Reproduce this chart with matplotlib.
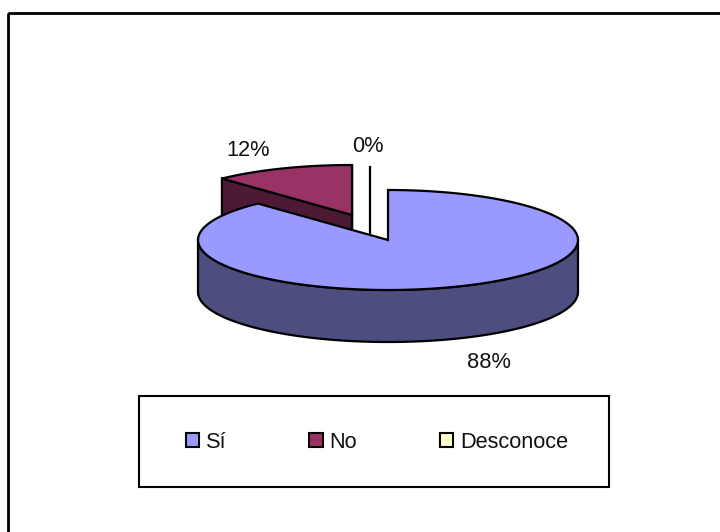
import matplotlib
matplotlib.use("Agg")
import matplotlib.pyplot as plt
from matplotlib.patches import Polygon, Rectangle, Patch
import numpy as np

categories = ["Sí", "No", "Desconoce"]
values = [88, 12, 0]
pct_labels = ["88%", "12%", "0%"]
colors = ["#9999FF", "#993366", "#FFFFCC"]
side_colors = ["#4D4D80", "#4D1A33", "#808066"]

plt.rcParams["font.family"] = ["Liberation Sans", "DejaVu Sans"]

RX, RY = 190, 50
DEPTH = 52
LW = 1.6
FONT = 15.7


def rim(cx, cy, a0, a1, n=120):
    # angles are clockwise from 12 o'clock, in degrees
    t = np.radians(np.linspace(a0, a1, n))
    return np.column_stack([cx + RX * np.sin(t), cy - RY * np.cos(t)])


def draw_poly(ax, pts, color, z):
    ax.add_patch(Polygon(pts, closed=True, facecolor=color, edgecolor="black",
                         linewidth=LW, joinstyle="miter", zorder=z))


fig = plt.figure(figsize=(7.2, 5.32), dpi=100)
ax = fig.add_axes([0, 0, 1, 1])
ax.set_xlim(0, 720)
ax.set_ylim(532, 0)
ax.axis("off")

# outer frame runs off the right and bottom of the picture
ax.add_patch(Rectangle((8, 13), 800, 600, fill=False, edgecolor="black", linewidth=2))

angles = np.cumsum([0] + values) * 3.6

# "No" slice, pulled out up and left
cx, cy = 352, 215
start, end = angles[1], angles[2]
edge = rim(cx, cy, start, end)
draw_poly(ax, [edge[0], (cx, cy), (cx, cy + DEPTH), edge[0] + (0, DEPTH)], side_colors[1], 2)
draw_poly(ax, [(cx, cy), (cx, cy + DEPTH), edge[-1] + (0, DEPTH), edge[-1]], side_colors[1], 2)
draw_poly(ax, np.vstack([[(cx, cy)], edge]), colors[1], 3)

# "Desconoce" has no width, only its edge shows
ax.plot([370, 370], [167, 235], color="black", linewidth=LW, zorder=3)

# "Sí" slice
cx, cy = 388, 240
start, end = angles[0], angles[1]
front = rim(cx, cy, 90, 270)
draw_poly(ax, np.vstack([front, front[::-1] + (0, DEPTH)]), side_colors[0], 4)
draw_poly(ax, np.vstack([[(cx, cy)], rim(cx, cy, start, end)]), colors[0], 5)

# percent labels
ax.text(489, 363, pct_labels[0], ha="center", va="center", fontsize=FONT, color="#111111")
ax.text(248, 150, pct_labels[1], ha="center", va="center", fontsize=FONT, color="#111111")
ax.text(368, 146, pct_labels[2], ha="center", va="center", fontsize=FONT, color="#111111")

# legend box
ax.add_patch(Rectangle((139, 396), 470, 91, facecolor="white", edgecolor="black",
                       linewidth=1.5, zorder=1))
handles = [Patch(facecolor=c, edgecolor="black", linewidth=1.5) for c in colors]
ax.legend(handles, categories, ncols=3, loc="center", bbox_to_anchor=(377, 442),
          bbox_transform=ax.transData, frameon=False, fontsize=FONT, labelcolor="#111111",
          handlelength=0.62, handleheight=0.62, handletextpad=0.3, columnspacing=3.8)

fig.savefig("out.png", dpi=100)
